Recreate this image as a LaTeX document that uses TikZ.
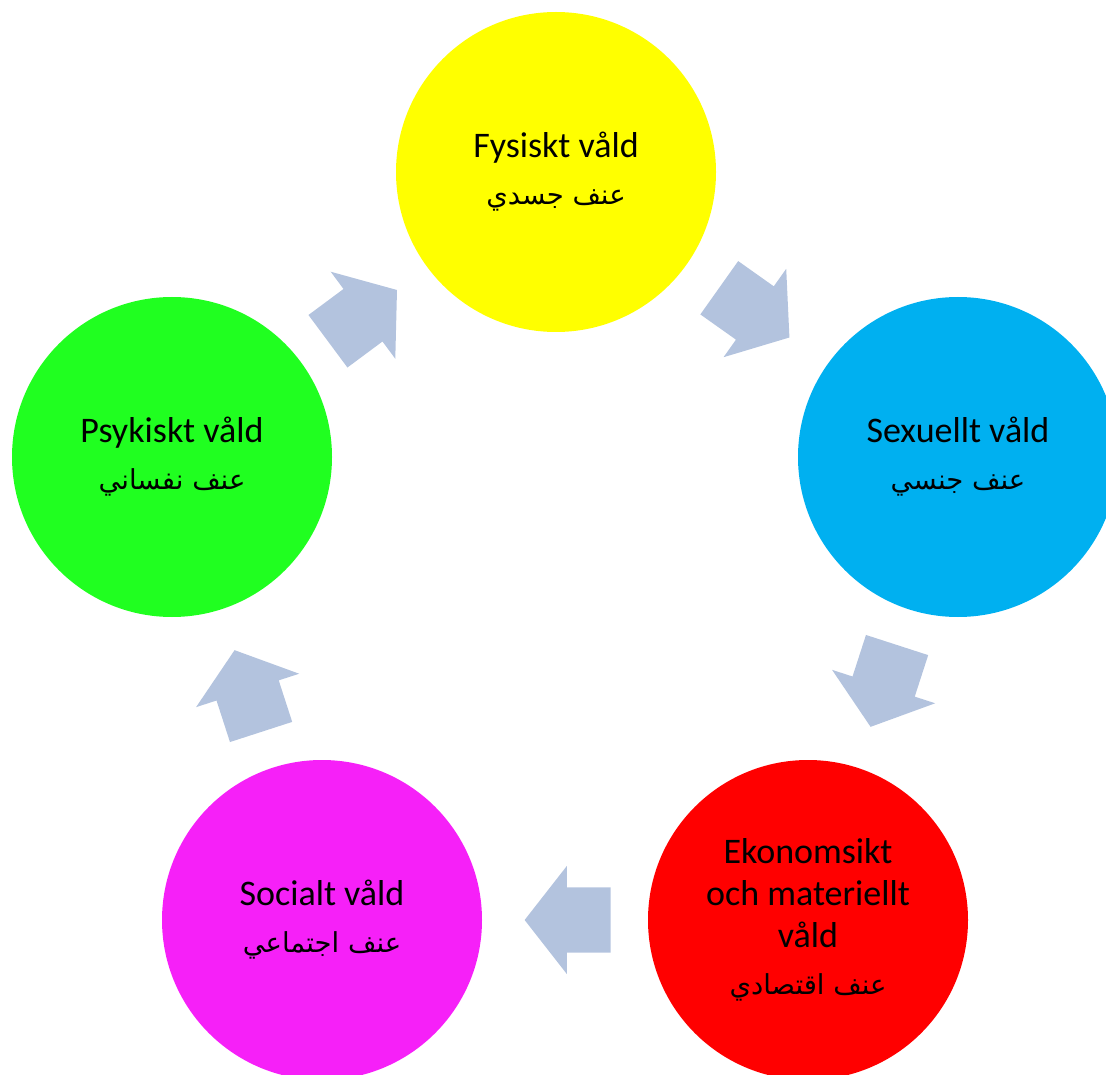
\documentclass[tikz,border=0pt]{standalone}
\usepackage{fontspec}
\setmainfont{Carlito}
\newfontfamily\arabicfont[Script=Arabic]{DejaVu Sans}
\TeXXeTstate=1
\usetikzlibrary{shapes.arrows}
\definecolor{physc}{HTML}{FFFF00}
\definecolor{sexc}{HTML}{00B0F0}
\definecolor{ekoc}{HTML}{FF0000}
\definecolor{socc}{HTML}{F620F8}
\definecolor{psyc}{HTML}{20FF20}
\definecolor{flowc}{HTML}{B3C3DE}
\newcommand{\arabtxt}[1]{{\arabicfont\fontsize{27.5}{32}\selectfont\beginR #1\endR}}
\tikzset{
  ring/.style={circle, minimum size=320pt, inner sep=0pt, align=center,
               font=\fontsize{36}{42}\selectfont, fill=#1},
  flow/.style={single arrow, fill=flowc, draw=none,
               inner xsep=0pt, inner ysep=32.5pt,
               minimum height=86pt, minimum width=108pt,
               single arrow head extend=21.5pt, single arrow tip angle=104,
               pos=0.407, sloped, allow upside down},
}
\begin{document}
\begin{tikzpicture}[x=1pt, y=-1pt]
\useasboundingbox (0,0) rectangle (1106,1075);
\clip (0,0) rectangle (1106,1075);
% the five circles
\node[ring=physc] (phys) at (556,172) {Fysiskt våld\\[5pt]\arabtxt{عنف جسدي}};
\node[ring=sexc] (sex) at (958,457) {Sexuellt våld\\[5pt]\arabtxt{عنف جنسي}};
\node[ring=ekoc] (eko) at (808,920) {Ekonomsikt\\och materiellt\\våld\\[5pt]\arabtxt{عنف اقتصادي}};
\node[ring=socc] (soc) at (322,920) {Socialt våld\\[5pt]\arabtxt{عنف اجتماعي}};
\node[ring=psyc] (psy) at (172,457) {Psykiskt våld\\[5pt]\arabtxt{عنف نفساني}};
% block arrows between them
\path (psy) -- node[flow] (f1) {} (phys);
\path (phys) -- node[flow] (f2) {} (sex);
\path (sex) -- node[flow] (f3) {} (eko);
\path (eko) -- node[flow] (f4) {} (soc);
\path (soc) -- node[flow] (f5) {} (psy);
\end{tikzpicture}
\end{document}
